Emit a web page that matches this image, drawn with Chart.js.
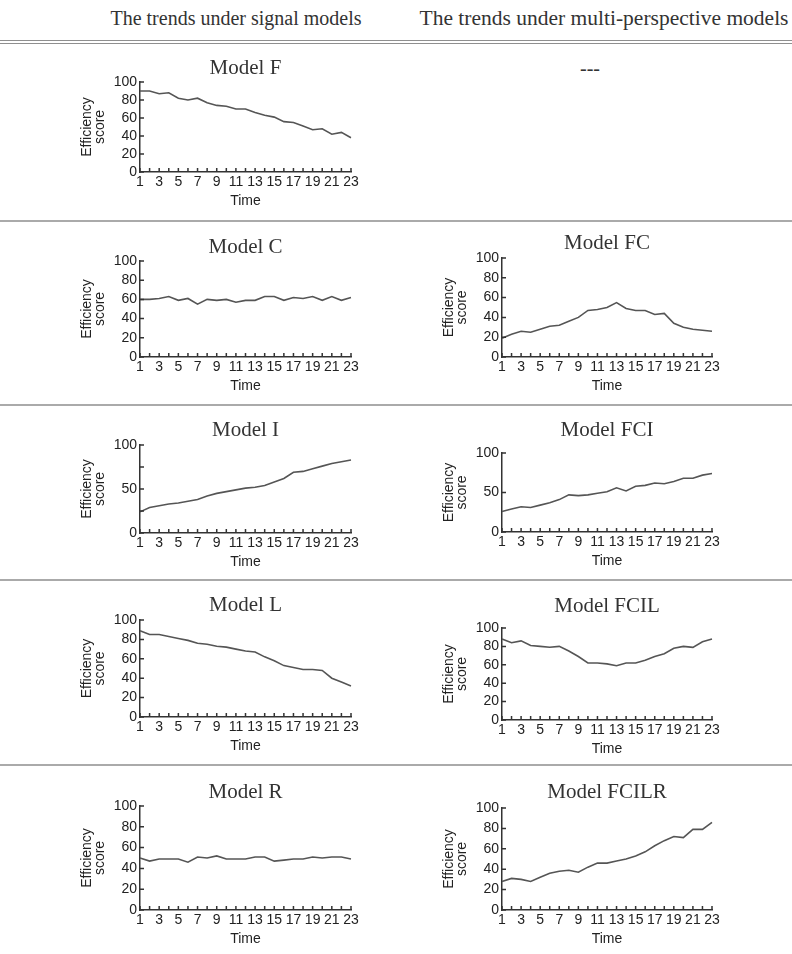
<!DOCTYPE html>
<html>
<head>
<meta charset="utf-8">
<title>Efficiency score trends</title>
<script src="https://cdn.jsdelivr.net/npm/chart.js@4.4.0/dist/chart.umd.min.js"></script>
<style>
    body { margin: 0; background: #fff; }
    #page {
        position: relative;
        width: 792px;
        height: 954px;
        overflow: hidden;
        font-family: "Liberation Serif", "Times New Roman", serif;
        color: #333;
    }
    .head {
        position: absolute;
        font-size: 20px;
        line-height: 24px;
        white-space: nowrap;
        transform: translateX(-50%);
    }
    .rule { position: absolute; left: 0; width: 792px; background: #8f8f8f; }
    canvas { position: absolute; }
</style>
</head>
<body>
<div id="page">
    <div class="head" style="left:236px; top:6px;">The trends under signal models</div>
    <div class="head" style="left:604px; top:6px; font-size:21.5px;">The trends under multi-perspective models</div>
    <div class="rule" style="top:40px; height:1px;"></div>
    <div class="rule" style="top:43px; height:1px;"></div>
    <div class="head" style="left:590px; top:56px;">---</div>
    <div class="rule" style="top:220px; height:2px; background:#aaa;"></div>
    <div class="rule" style="top:404px; height:2px; background:#aaa;"></div>
    <div class="rule" style="top:579px; height:2px; background:#aaa;"></div>
    <div class="rule" style="top:764px; height:2px; background:#aaa;"></div>
</div>

<script>
// x categories (time periods)
const timeLabels = ["1", "2", "3", "4", "5", "6", "7", "8", "9", "10", "11", "12",
    "13", "14", "15", "16", "17", "18", "19", "20", "21", "22", "23"];

// efficiency scores
const modelF = [90, 90, 87, 88, 82, 80, 82, 77, 74, 73, 70, 70, 66, 63, 61, 56, 55, 51, 47, 48, 42, 44, 38];
const modelC = [60, 60, 61, 63, 59, 61, 55, 60, 59, 60, 57, 59, 59, 63, 63, 59, 62, 61, 63, 59, 63, 59, 62];
const modelFC = [19, 23, 26, 25, 28, 31, 32, 36, 40, 47, 48, 50, 55, 49, 47, 47, 43, 44, 34, 30, 28, 27, 26];
const modelI = [24, 29, 31, 33, 34, 36, 38, 42, 45, 47, 49, 51, 52, 54, 58, 62, 69, 70, 73, 76, 79, 81, 83];
const modelFCI = [26, 29, 32, 31, 34, 37, 41, 47, 46, 47, 49, 51, 56, 52, 58, 59, 62, 61, 64, 68, 68, 72, 74];
const modelL = [89, 85, 85, 83, 81, 79, 76, 75, 73, 72, 70, 68, 67, 62, 58, 53, 51, 49, 49, 48, 40, 36, 32];
const modelFCIL = [88, 84, 86, 81, 80, 79, 80, 75, 69, 62, 62, 61, 59, 62, 62, 65, 69, 72, 78, 80, 79, 85, 88];
const modelR = [50, 47, 49, 49, 49, 46, 51, 50, 52, 49, 49, 49, 51, 51, 47, 48, 49, 49, 51, 50, 51, 51, 49];
const modelFCILR = [28, 31, 30, 28, 32, 36, 38, 39, 37, 42, 46, 46, 48, 50, 53, 57, 63, 68, 72, 71, 79, 79, 86];

const axisFont = { family: "'Liberation Sans', Arial, sans-serif", size: 14 };
const titleFont = { family: "'Liberation Serif', 'Times New Roman', serif", size: 21, weight: "normal", lineHeight: "24px" };

// small inward tick marks like the original figure
const inwardTicks = {
    id: "inwardTicks",
    afterDatasetsDraw(chart) {
        const { ctx, chartArea, scales } = chart;
        ctx.save();
        ctx.strokeStyle = "#333";
        ctx.lineWidth = 1.5;
        ctx.beginPath();
        scales.x.ticks.forEach(function (t, i) {
            let px = scales.x.getPixelForTick(i);
            ctx.moveTo(px, chartArea.bottom);
            ctx.lineTo(px, chartArea.bottom - 4);
        });
        scales.y.ticks.forEach(function (t, i) {
            let py = scales.y.getPixelForTick(i);
            ctx.moveTo(chartArea.left, py);
            ctx.lineTo(chartArea.left + 4, py);
        });
        ctx.stroke();
        ctx.restore();
    },
};

function drawPanel(p) {
    const top = p.titleY - 12;
    const left = p.plotL - 80;
    const canvas = document.createElement("canvas");
    canvas.width = p.plotR - p.plotL + 160;
    canvas.height = p.plotB - top + 36;
    canvas.style.left = left + "px";
    canvas.style.top = top + "px";
    document.getElementById("page").appendChild(canvas);

    new Chart(canvas, {
        type: "line",
        data: {
            labels: timeLabels,
            datasets: [
                {
                    data: p.values,
                    borderColor: "#555",
                    borderWidth: 1.6,
                    pointRadius: 0,
                    tension: 0,
                    fill: false,
                },
            ],
        },
        options: {
            responsive: false,
            animation: false,
            layout: { padding: 0 },
            plugins: {
                legend: { display: false },
                tooltip: { enabled: false },
                title: {
                    display: true,
                    text: p.title,
                    color: "#333",
                    font: titleFont,
                    padding: { top: 0, bottom: p.plotT - p.titleY - 12 },
                },
            },
            scales: {
                x: {
                    afterFit: function (scale) {
                        scale.height = 36;
                    },
                    grid: { drawOnChartArea: false, drawTicks: false },
                    border: { display: true, color: "#333", width: 1.5 },
                    ticks: {
                        autoSkip: false,
                        maxRotation: 0,
                        padding: 2,
                        color: "#222",
                        font: axisFont,
                        callback: function (value, index) {
                            return index % 2 === 0 ? this.getLabelForValue(value) : "";
                        },
                    },
                    title: {
                        display: true,
                        text: "Time",
                        color: "#222",
                        font: Object.assign({}, axisFont, { lineHeight: 1 }),
                        padding: 0,
                    },
                },
                y: {
                    min: 0,
                    max: 100,
                    afterFit: function (scale) {
                        scale.width = 80;
                    },
                    grid: { drawOnChartArea: false, drawTicks: false },
                    border: { display: true, color: "#333", width: 1.5 },
                    ticks: {
                        stepSize: p.step,
                        autoSkip: false,
                        padding: 3,
                        color: "#222",
                        font: axisFont,
                        callback: function (value) {
                            return value % p.labelEvery === 0 ? value : "";
                        },
                    },
                    title: {
                        display: true,
                        text: ["Efficiency", "score"],
                        color: "#222",
                        font: Object.assign({}, axisFont, { lineHeight: 0.9 }),
                        padding: { top: 21, bottom: 0 },
                    },
                },
                // empty right axis, only keeps the plot centred under the title
                spacer: {
                    type: "linear",
                    position: "right",
                    afterFit: function (scale) {
                        scale.width = 80;
                    },
                    grid: { display: false, drawTicks: false },
                    border: { display: false },
                    ticks: { display: false },
                },
            },
        },
        plugins: [inwardTicks],
    });
}

const leftCol = { plotL: 140, plotR: 351 };
const rightCol = { plotL: 502, plotR: 712 };

const panels = [
    Object.assign({ title: "Model F", values: modelF, titleY: 68, plotT: 82, plotB: 172, step: 20, labelEvery: 20 }, leftCol),
    Object.assign({ title: "Model C", values: modelC, titleY: 247, plotT: 261, plotB: 357, step: 20, labelEvery: 20 }, leftCol),
    Object.assign({ title: "Model FC", values: modelFC, titleY: 243, plotT: 258, plotB: 357, step: 20, labelEvery: 20 }, rightCol),
    Object.assign({ title: "Model I", values: modelI, titleY: 430, plotT: 445, plotB: 533, step: 25, labelEvery: 50 }, leftCol),
    Object.assign({ title: "Model FCI", values: modelFCI, titleY: 430, plotT: 453, plotB: 532, step: 50, labelEvery: 50 }, rightCol),
    Object.assign({ title: "Model L", values: modelL, titleY: 605, plotT: 620, plotB: 717, step: 20, labelEvery: 20 }, leftCol),
    Object.assign({ title: "Model FCIL", values: modelFCIL, titleY: 606, plotT: 628, plotB: 720, step: 20, labelEvery: 20 }, rightCol),
    Object.assign({ title: "Model R", values: modelR, titleY: 792, plotT: 806, plotB: 910, step: 20, labelEvery: 20 }, leftCol),
    Object.assign({ title: "Model FCILR", values: modelFCILR, titleY: 792, plotT: 808, plotB: 910, step: 20, labelEvery: 20 }, rightCol),
];

panels.forEach(drawPanel);
</script>
</body>
</html>
